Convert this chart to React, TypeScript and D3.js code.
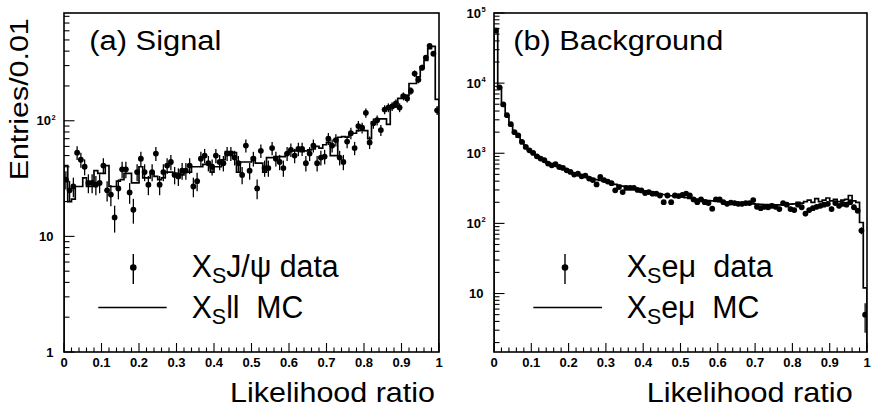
import { useEffect, useRef } from "react"
import * as d3 from "d3"

const W = 873
const H = 412
const FONT = "'Liberation Sans', Arial, Helvetica, sans-serif"

// lower edges of the 100 bins (width 0.01)
const binEdges = d3.range(100).map((i) => i / 100)

const xTickLabels = ["0", "0.1", "0.2", "0.3", "0.4", "0.5", "0.6", "0.7", "0.8", "0.9", "1"]

// (a) Signal: X_s J/psi data points
const signalData = [
  31, 25, 27, 53, 46, 40, 29, 29, 28, 29,
  41, 25, 23, 14.6, 26, 38, 38, 24, 17, 36,
  47, 36, 28, 36, 52, 28, 36, 41, 44, 34,
  33, 37, 37, 41, 27, 30, 47, 50, 43, 40,
  50, 44, 43, 52, 52, 48, 43, 34, 61, 37,
  47, 26, 55, 39, 39, 58, 47, 44, 39, 52,
  56, 50, 57, 57, 43, 52, 61, 43, 48, 49,
  70, 61, 68, 48, 44, 66, 78, 58, 90, 87,
  117, 65, 95, 101, 83, 125, 130, 133, 141, 130,
  163, 156, 181, 256, 226, 288, 351, 443, 380, 123,
]

// (a) Signal: X_s ll MC histogram
const signalMC = [
  41, 20, 21, 27, 27, 32, 27, 27, 37, 35,
  35, 41, 27, 27, 30, 31, 35, 35, 29, 29,
  40, 32, 32, 36, 33, 31, 32, 36, 36, 34,
  35, 34, 36, 36, 40, 40, 40, 42, 42, 36,
  40, 40, 46, 54, 54, 53, 36, 44, 44, 44,
  48, 43, 43, 36, 48, 48, 49, 49, 49, 52,
  55, 55, 56, 54, 55, 56, 57, 60, 58, 62,
  65, 50, 50, 72, 73, 72, 78, 78, 82, 83,
  82, 70, 98, 104, 104, 104, 93, 132, 132, 156,
  166, 166, 210, 210, 240, 292, 333, 420, 440, 153,
]

// (b) Background: X_s e mu data points
const bkgData = [
  56000, 8700, 4970, 3490, 2600, 2000, 1800, 1450, 1230, 1100,
  1010, 905, 840, 795, 713, 674, 697, 637, 617, 571,
  541, 497, 510, 469, 480, 435, 415, 360, 460, 415,
  395, 375, 296, 330, 280, 320, 320, 320, 300, 295,
  271, 280, 265, 265, 250, 201, 250, 201, 250, 245,
  255, 265, 250, 220, 201, 220, 201, 195, 162, 220,
  220, 201, 190, 198, 195, 190, 190, 195, 195, 215,
  172, 165, 172, 170, 178, 172, 160, 195, 185, 160,
  155, 185, 170, 138, 155, 165, 172, 178, 185, 190,
  160, 195, 178, 190, 185, 201, 170, 152, 79, 5,
]

// (b) Background: X_s e mu MC histogram
const bkgMC = [
  60000, 8500, 4800, 3400, 2500, 1950, 1700, 1450, 1250, 1100,
  1000, 920, 850, 790, 730, 690, 660, 630, 600, 570,
  545, 520, 500, 480, 465, 450, 435, 420, 410, 400,
  390, 375, 360, 350, 340, 330, 322, 315, 305, 298,
  290, 283, 276, 270, 264, 258, 252, 248, 243, 240,
  236, 232, 228, 225, 222, 218, 215, 212, 210, 207,
  205, 202, 200, 198, 196, 195, 193, 192, 190, 190,
  188, 187, 186, 185, 185, 184, 184, 185, 186, 188,
  190, 200, 195, 205, 215, 200, 225, 205, 215, 230,
  210, 220, 205, 215, 220, 250, 210, 200, 103, 12,
]

const signalYLabels = [1, 10, 100]
const bkgYLabels = [10, 100, 1000, 10000, 100000]

interface PanelSpec {
  id: string
  left: number
  right: number
  yMin: number
  yMax: number
  data: number[]
  mc: number[]
  yLabels: number[]
  title: string
  titleX: number
  titleLen: number
  xTitleX: number
  xTitleLen: number
  legX: number
  legMarkX: number
  legLine: [number, number]
  legDataSub: string
  legDataLen: number
  legMCRest: string
  legMCLen: number
}

const TOP = 13
const BOTTOM = 352

function drawPanel(svg: d3.Selection<SVGSVGElement, unknown, null, undefined>, p: PanelSpec) {
  const x = d3.scaleLinear().domain([0, 1]).range([p.left, p.right])
  const y = d3.scaleLog().domain([p.yMin, p.yMax]).range([BOTTOM, TOP])

  const clipId = `clip-${p.id}`
  svg
    .append("clipPath")
    .attr("id", clipId)
    .append("rect")
    .attr("x", p.left)
    .attr("y", TOP)
    .attr("width", p.right - p.left)
    .attr("height", BOTTOM - TOP)

  const g = svg.append("g")

  // MC histogram
  const steps: [number, number][] = [
    [0, p.yMin],
    ...p.mc.map((v, i) => [binEdges[i], v] as [number, number]),
    [1, p.mc[p.mc.length - 1]],
    [1, p.yMin],
  ]
  const line = d3
    .line<[number, number]>()
    .x((d) => x(d[0]))
    .y((d) => y(d[1]))
    .curve(d3.curveStepAfter)
  g.append("path")
    .attr("d", line(steps))
    .attr("fill", "none")
    .attr("stroke", "#000")
    .attr("stroke-width", 1.7)
    .attr("clip-path", `url(#${clipId})`)

  // data points with sqrt(N) error bars
  const pts = g.append("g").attr("clip-path", `url(#${clipId})`)
  p.data.forEach((v, i) => {
    const cx = x(binEdges[i] + 0.005)
    const err = Math.sqrt(v)
    const lo = Math.max(v - err, p.yMin * 0.5)
    pts
      .append("line")
      .attr("x1", cx)
      .attr("x2", cx)
      .attr("y1", y(lo))
      .attr("y2", y(v + err))
      .attr("stroke", "#000")
      .attr("stroke-width", 1.3)
    pts.append("circle").attr("cx", cx).attr("cy", y(v)).attr("r", 2.9).attr("fill", "#000")
  })

  // frame
  g.append("rect")
    .attr("x", p.left)
    .attr("y", TOP)
    .attr("width", p.right - p.left)
    .attr("height", BOTTOM - TOP)
    .attr("fill", "none")
    .attr("stroke", "#000")
    .attr("stroke-width", 1.6)

  // x ticks
  const majorX = x.ticks(10)
  x.ticks(50).forEach((t) => {
    const isMajor = majorX.some((m) => Math.abs(m - t) < 1e-9)
    g.append("line")
      .attr("x1", x(t))
      .attr("x2", x(t))
      .attr("y1", BOTTOM)
      .attr("y2", BOTTOM - (isMajor ? 9 : 4.5))
      .attr("stroke", "#000")
      .attr("stroke-width", 1.1)
  })
  majorX.forEach((t, i) => {
    g.append("text")
      .attr("x", x(t))
      .attr("y", 367)
      .attr("text-anchor", "middle")
      .attr("font-family", FONT)
      .attr("font-weight", "bold")
      .attr("font-size", 13)
      .text(xTickLabels[i])
  })

  // y ticks
  y.ticks().forEach((t) => {
    if (t < p.yMin || t > p.yMax) return
    const isMajor = p.yLabels.includes(t) || t === 1
    g.append("line")
      .attr("x1", p.left)
      .attr("x2", p.left + (isMajor ? 10.5 : 5.5))
      .attr("y1", y(t))
      .attr("y2", y(t))
      .attr("stroke", "#000")
      .attr("stroke-width", 1.1)
  })
  p.yLabels.forEach((t) => {
    const exp = Math.round(Math.log10(t))
    const base = exp <= 1 ? String(t) : "10"
    g.append("text")
      .attr("x", p.left - (exp <= 1 ? 10.5 : 13))
      .attr("y", y(t) + 4.7)
      .attr("text-anchor", "end")
      .attr("font-family", FONT)
      .attr("font-weight", "bold")
      .attr("font-size", 13)
      .text(base)
    if (exp > 1) {
      g.append("text")
        .attr("x", p.left - 12.5)
        .attr("y", y(t) - 1)
        .attr("font-family", FONT)
        .attr("font-weight", "bold")
        .attr("font-size", 7.5)
        .text(String(exp))
    }
  })

  // panel title
  g.append("text")
    .attr("x", p.titleX)
    .attr("y", 50)
    .attr("font-family", FONT)
    .attr("font-size", 27)
    .attr("textLength", p.titleLen)
    .attr("lengthAdjust", "spacingAndGlyphs")
    .text(p.title)

  // x axis title
  g.append("text")
    .attr("x", p.xTitleX)
    .attr("y", 402)
    .attr("font-family", FONT)
    .attr("font-size", 27.5)
    .attr("textLength", p.xTitleLen)
    .attr("lengthAdjust", "spacingAndGlyphs")
    .text("Likelihood ratio")

  // legend
  const lg = g.append("g")
  lg.append("line")
    .attr("x1", p.legMarkX)
    .attr("x2", p.legMarkX)
    .attr("y1", 254)
    .attr("y2", 284)
    .attr("stroke", "#000")
    .attr("stroke-width", 1.4)
  lg.append("circle").attr("cx", p.legMarkX).attr("cy", 267.5).attr("r", 3.3).attr("fill", "#000")
  lg.append("line")
    .attr("x1", p.legLine[0])
    .attr("x2", p.legLine[1])
    .attr("y1", 307.5)
    .attr("y2", 307.5)
    .attr("stroke", "#000")
    .attr("stroke-width", 1.7)

  const legendText = (yy: number, rest: string, len: number) => {
    const t = lg
      .append("text")
      .attr("x", p.legX)
      .attr("y", yy)
      .attr("font-family", FONT)
      .attr("font-size", 31)
      .attr("textLength", len)
      .attr("lengthAdjust", "spacingAndGlyphs")
      .style("white-space", "pre")
    t.append("tspan").text("X")
    t.append("tspan").attr("font-size", 22).attr("dy", 6).text("S")
    t.append("tspan").attr("dy", -6).text(rest)
  }
  legendText(277.3, p.legDataSub, p.legDataLen)
  legendText(318.3, p.legMCRest, p.legMCLen)
}

export default function App() {
  const ref = useRef<SVGSVGElement>(null)

  useEffect(() => {
    if (!ref.current) return
    const svg = d3.select(ref.current)
    svg.selectAll("*").remove()

    svg.append("rect").attr("width", W).attr("height", H).attr("fill", "#fff")

    drawPanel(svg, {
      id: "sig",
      left: 64,
      right: 439,
      yMin: 1,
      yMax: 855,
      data: signalData,
      mc: signalMC,
      yLabels: signalYLabels,
      title: "(a) Signal",
      titleX: 89.3,
      titleLen: 132,
      xTitleX: 230,
      xTitleLen: 205,
      legX: 191.7,
      legMarkX: 133.3,
      legLine: [98.3, 166.7],
      legDataSub: "J/\u03c8 data",
      legDataLen: 147,
      legMCRest: "ll  MC",
      legMCLen: 111.6,
    })

    drawPanel(svg, {
      id: "bkg",
      left: 494,
      right: 867,
      yMin: 1.466,
      yMax: 100000,
      data: bkgData,
      mc: bkgMC,
      yLabels: bkgYLabels,
      title: "(b) Background",
      titleX: 513.3,
      titleLen: 210,
      xTitleX: 646.7,
      xTitleLen: 206,
      legX: 626.7,
      legMarkX: 565,
      legLine: [533.3, 602],
      legDataSub: "e\u03bc  data",
      legDataLen: 146,
      legMCRest: "e\u03bc  MC",
      legMCLen: 132.6,
    })

    // shared y axis title
    svg
      .append("text")
      .attr("transform", "translate(28.3,180.3) rotate(-90)")
      .attr("font-family", FONT)
      .attr("font-size", 26)
      .attr("textLength", 162)
      .attr("lengthAdjust", "spacingAndGlyphs")
      .text("Entries/0.01")
  }, [])

  return (
    <svg
      ref={ref}
      width={W}
      height={H}
      style={{ position: "absolute", left: 0, top: 0, display: "block" }}
    />
  )
}
